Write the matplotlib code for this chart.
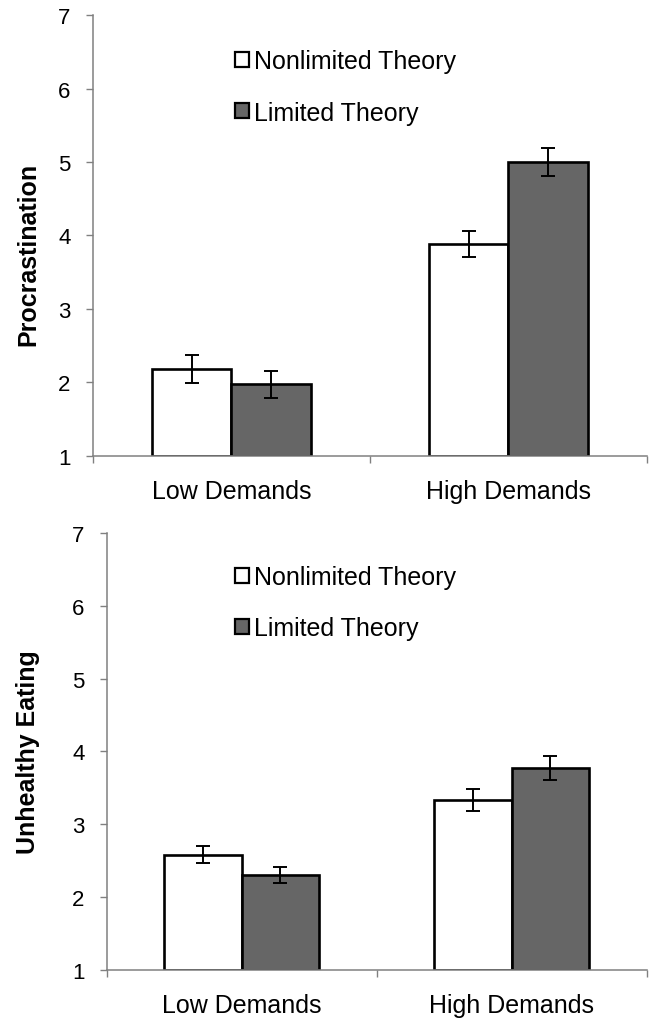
import numpy as np
import matplotlib
matplotlib.use('Agg')
import matplotlib.pyplot as plt
from matplotlib.patches import Patch

plt.rcParams['font.family'] = ['Liberation Sans', 'DejaVu Sans']

categories = ['Low Demands', 'High Demands']
series = ['Nonlimited Theory', 'Limited Theory']

procrastination = [2.18, 3.88]
procrastination_err = [0.185, 0.175]
procrastination_lim = [1.97, 5.00]
procrastination_lim_err = [0.185, 0.195]

eating = [2.58, 3.33]
eating_err = [0.12, 0.155]
eating_lim = [2.30, 3.77]
eating_lim_err = [0.115, 0.16]

yticks = [1, 2, 3, 4, 5, 6, 7]

fig = plt.figure(figsize=(6.51, 10.2), dpi=100)
ax1 = fig.add_axes([0.1424, 0.5523, 0.8515, 0.4318])
ax2 = fig.add_axes([0.1639, 0.0483, 0.8295, 0.4282])

spine_col = '#808080'
bw = 0.287


def draw(ax, a, a_err, b, b_err, ylabel, label_y):
    x = np.arange(len(categories)) + 0.5
    ax.bar(x - bw / 2, np.array(a) - 1, bw, bottom=1, color='white',
           edgecolor='black', linewidth=1.9, label=series[0], zorder=2)
    ax.bar(x + bw / 2, np.array(b) - 1, bw, bottom=1, color='#666666',
           edgecolor='black', linewidth=1.9, label=series[1], zorder=2)
    ax.errorbar(x - bw / 2, a, yerr=a_err, fmt='none', ecolor='black',
                elinewidth=1.4, capsize=5, capthick=1.4, zorder=3)
    ax.errorbar(x + bw / 2, b, yerr=b_err, fmt='none', ecolor='black',
                elinewidth=1.4, capsize=5, capthick=1.4, zorder=3)
    ax.set_xlim(0, 2)
    ax.set_ylim(1, 7)
    ax.set_yticks(yticks)
    ax.set_xticks([0, 1, 2])
    ax.set_xticklabels([])
    ax.set_xticks(x, minor=True)
    ax.set_xticklabels(categories, minor=True, fontsize=18)
    ax.tick_params(axis='x', which='minor', length=0, pad=17)
    ax.tick_params(axis='x', which='major', direction='out', length=5,
                   color=spine_col, width=1)
    ax.tick_params(axis='y', direction='out', length=5, color=spine_col,
                   width=1, labelsize=16, pad=11)
    for s in ['top', 'right']:
        ax.spines[s].set_visible(False)
    for s in ['left', 'bottom']:
        ax.spines[s].set_color(spine_col)
        ax.spines[s].set_linewidth(1.1)
    fig.text(28 / 651, 1 - label_y / 1020, ylabel, rotation=90,
             fontsize=18, fontweight='bold', ha='center', va='center')
    handles = [Patch(facecolor='white', edgecolor='black', linewidth=1.6),
               Patch(facecolor='#666666', edgecolor='black', linewidth=1.6)]
    return handles


h = draw(ax1, procrastination, procrastination_err, procrastination_lim,
         procrastination_lim_err, 'Procrastination', 254)
ax1.legend(h, series, loc='upper left', frameon=False, fontsize=18,
           handlelength=0.55, handleheight=0.55, handletextpad=0.2,
           labelspacing=1.1, borderaxespad=0,
           bbox_to_anchor=(225 / 651, 1 - 40 / 1020),
           bbox_transform=fig.transFigure)

h = draw(ax2, eating, eating_err, eating_lim, eating_lim_err,
         'Unhealthy Eating', 752)
ax2.legend(h, series, loc='upper left', frameon=False, fontsize=18,
           handlelength=0.55, handleheight=0.55, handletextpad=0.2,
           labelspacing=1.1, borderaxespad=0,
           bbox_to_anchor=(225 / 651, 1 - 556 / 1020),
           bbox_transform=fig.transFigure)

fig.savefig('out.png', dpi=100)
